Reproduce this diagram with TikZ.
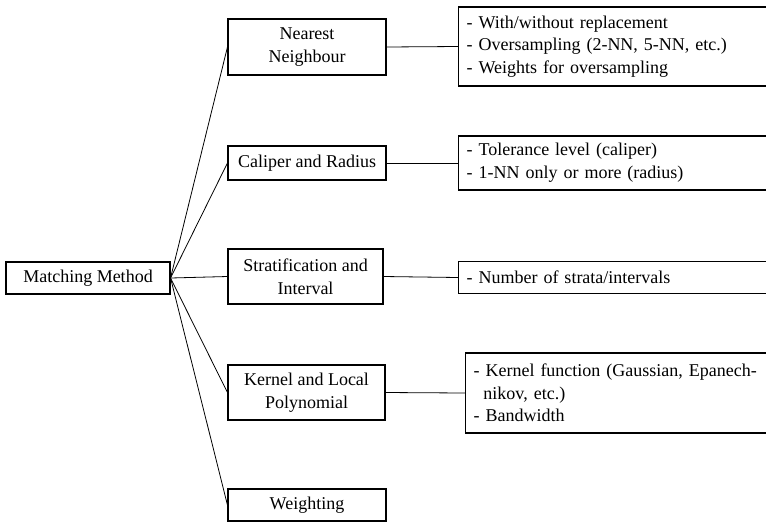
\documentclass[tikz,border=0pt]{standalone}
\usepackage{fontspec}
\setmainfont{Liberation Serif}
\begin{document}
\begin{tikzpicture}[x=0.75pt,y=-0.75pt,
    font=\fontsize{13.5}{17}\selectfont,
    mbox/.style={draw,line width=0.8pt,align=center,inner sep=0pt},
    lbox/.style={draw,line width=0.8pt,anchor=west,align=left,inner xsep=6pt,inner ysep=0pt,text width=222pt},
    link/.style={line width=0.6pt}]
    \useasboundingbox (0,0) rectangle (766,522);
    \clip (0,0) rectangle (766,522);

    \node[mbox,minimum width=123pt,minimum height=24pt] (mm) at (88,278) {Matching Method};

    \node[mbox,minimum width=118.5pt,minimum height=42pt] (nn) at (307,47) {Nearest\\Neighbour};
    \node[mbox,minimum width=118.5pt,minimum height=25.5pt] (cr) at (307,163) {Caliper and Radius};
    \node[mbox,minimum width=116.25pt,minimum height=41.25pt] (si) at (305.5,276.5) {Stratification and\\Interval};
    \node[mbox,minimum width=117.75pt,minimum height=41.25pt] (kl) at (306.5,392.5) {Kernel and Local\\Polynomial};
    \node[mbox,minimum width=118.5pt,minimum height=24pt] (wt) at (307,505) {Weighting};

    \node[lbox,minimum height=59.25pt] (r1) at (458,46.5) {- With/without replacement\\- Oversampling (2-NN, 5-NN, etc.)\\- Weights for oversampling};
    \node[lbox,minimum height=40.5pt] (r2) at (458,163) {- Tolerance level (caliper)\\- 1-NN only or more (radius)};
    \node[lbox,minimum height=24pt] (r3) at (458,277.5) {- Number of strata/intervals};
    \node[lbox,minimum height=60pt] (r4) at (465,393) {- Kernel function (Gaussian, Epanech-\\\hspace*{0.55em}nikov, etc.)\\- Bandwidth};

    \foreach \m in {nn,cr,si,kl,wt}
        \draw[link] (mm.east) -- (\m.west);
    \foreach \m/\r in {nn/r1,cr/r2,si/r3,kl/r4}
        \draw[link] (\m.east) -- (\r.west);
\end{tikzpicture}
\end{document}
